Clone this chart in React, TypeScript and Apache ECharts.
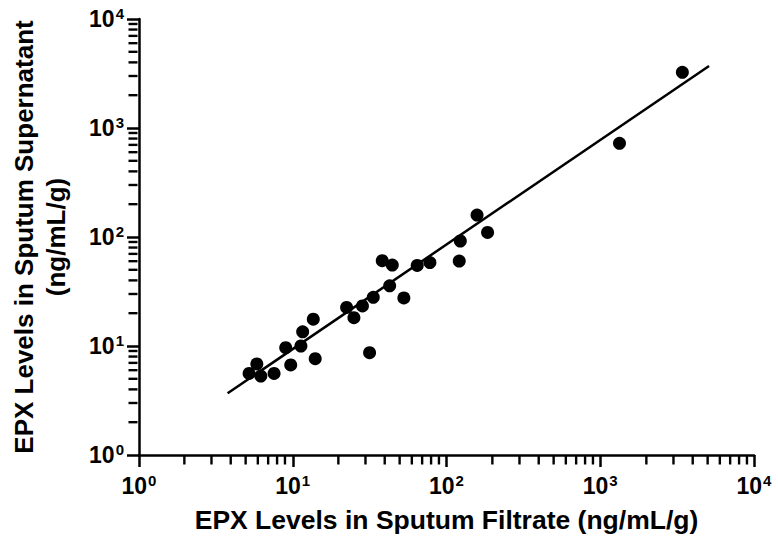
import React, { useEffect, useRef } from "react";
import * as echarts from "echarts";

// EPX levels: x = sputum filtrate, y = sputum supernatant (ng/mL/g)
const filtrate = [5.2, 5.84, 6.2, 7.56, 9.7, 9.0, 11.3, 11.6, 13.6, 14.0, 22.4, 25.0, 28.4, 31.6, 33.4, 38.2, 44.4, 42.7, 52.8, 64.5, 78.0, 158, 185, 123, 121, 3420, 1334];
const supernatant = [5.6, 6.84, 5.3, 5.6, 6.7, 9.65, 10.0, 13.5, 17.6, 7.65, 22.6, 18.2, 23.3, 8.68, 28.0, 60.6, 55.3, 35.7, 27.6, 54.9, 58.3, 159, 110, 91.9, 60.2, 3245, 724];

// regression line end points
const fitX = [3.77, 5100];
const fitY = [3.68, 3706];

// axis range and minor tick values
const axisMin = 1;
const axisMax = 10000;
const minorTicks = [
  2, 3, 4, 5, 6, 7, 8, 9,
  20, 30, 40, 50, 60, 70, 80, 90,
  200, 300, 400, 500, 600, 700, 800, 900,
  2000, 3000, 4000, 5000, 6000, 7000, 8000, 9000,
];

const xTitle = "EPX Levels in Sputum Filtrate (ng/mL/g)";
const yTitle = "EPX Levels in Sputum Supernatant\n(ng/mL/g)";

const FONT = "'Liberation Sans', Arial, Helvetica, sans-serif";

export default function App() {
  const ref = useRef<HTMLDivElement>(null);

  useEffect(() => {
    document.body.style.margin = "0";
    if (!ref.current) return;
    const chart = echarts.init(ref.current, undefined, { renderer: "svg" });

    const labelRich = {
      b: { fontSize: 23, fontWeight: "bold", color: "#000", fontFamily: FONT, lineHeight: 26 },
      s: { fontSize: 15, fontWeight: "bold", color: "#000", fontFamily: FONT, verticalAlign: "top", lineHeight: 26, padding: [0, 0, 8, 1] },
    };
    const fmt = (v: number) => `{b|10}{s|${Math.round(Math.log10(v))}}`;

    const axisCommon = {
      type: "log",
      logBase: 10,
      min: axisMin,
      max: axisMax,
      splitLine: { show: false },
      axisLine: { show: true, onZero: false, lineStyle: { color: "#000", width: 2.5 } },
      axisTick: { show: true, length: 12, lineStyle: { color: "#000", width: 2.5 } },
      minorTick: { show: false },
    };
    const hiddenLog = { type: "log", logBase: 10, min: axisMin, max: axisMax, show: false };
    const hiddenUnit = { type: "value", min: 0, max: 1, show: false };

    chart.setOption({
      animation: false,
      backgroundColor: "#fff",
      grid: [
        { left: 138, right: 24, top: 19, bottom: 85 },
        // strip below the x axis for minor ticks
        { left: 138, right: 24, top: 455, bottom: 75 },
        // strip left of the y axis for minor ticks
        { left: 128, width: 10, top: 19, bottom: 85 },
      ],
      xAxis: [
        {
          ...axisCommon,
          gridIndex: 0,
          name: xTitle,
          nameLocation: "middle",
          nameGap: 50,
          nameTextStyle: { fontSize: 26.5, fontWeight: "bold", fontFamily: FONT, color: "#000", lineHeight: 30 },
          axisLabel: { margin: 18, formatter: fmt, rich: labelRich },
        },
        { ...hiddenLog, gridIndex: 1 },
        { ...hiddenUnit, gridIndex: 2 },
      ],
      yAxis: [
        {
          ...axisCommon,
          gridIndex: 0,
          name: yTitle,
          nameLocation: "middle",
          nameRotate: 90,
          nameGap: 67,
          nameTextStyle: { fontSize: 26, fontWeight: "bold", fontFamily: FONT, color: "#000", lineHeight: 32 },
          axisLabel: { margin: 15, formatter: fmt, rich: labelRich },
        },
        { ...hiddenUnit, gridIndex: 1 },
        { ...hiddenLog, gridIndex: 2 },
      ],
      series: [
        {
          type: "line",
          xAxisIndex: 0,
          yAxisIndex: 0,
          data: fitX.map((x, i) => [x, fitY[i]]),
          symbol: "none",
          lineStyle: { color: "#000", width: 2.5 },
        },
        {
          type: "scatter",
          xAxisIndex: 0,
          yAxisIndex: 0,
          data: filtrate.map((x, i) => [x, supernatant[i]]),
          symbolSize: 13,
          itemStyle: { color: "#000", opacity: 1 },
        },
        {
          type: "scatter",
          xAxisIndex: 1,
          yAxisIndex: 1,
          clip: false,
          data: minorTicks.map((v) => [v, 0.5]),
          symbol: "rect",
          symbolSize: [2.4, 9],
          itemStyle: { color: "#000", opacity: 1 },
        },
        {
          type: "scatter",
          xAxisIndex: 2,
          yAxisIndex: 2,
          clip: false,
          data: minorTicks.map((v) => [0.5, v]),
          symbol: "rect",
          symbolSize: [9, 2.4],
          itemStyle: { color: "#000", opacity: 1 },
        },
      ],
    });

    return () => chart.dispose();
  }, []);

  return <div ref={ref} style={{ width: 778, height: 540 }} />;
}
